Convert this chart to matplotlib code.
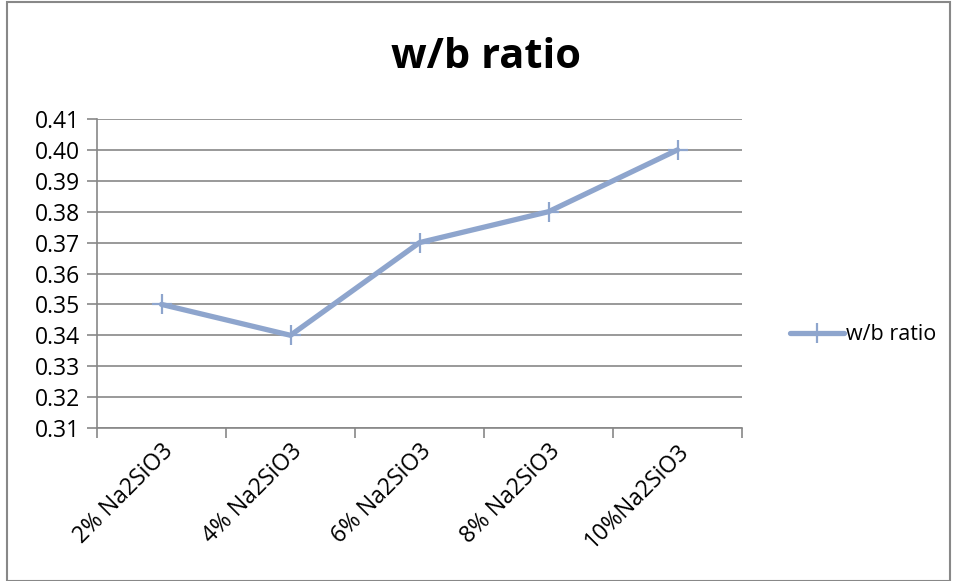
import matplotlib.pyplot as plt
import numpy as np
from matplotlib.patches import Rectangle

categories = ["2% Na2SiO3", "4% Na2SiO3", "6% Na2SiO3", "8% Na2SiO3", "10%Na2SiO3"]
wb_ratio = [0.35, 0.34, 0.37, 0.38, 0.40]
y_ticks = [0.31, 0.32, 0.33, 0.34, 0.35, 0.36, 0.37, 0.38, 0.39, 0.40, 0.41]

plt.rcParams['font.family'] = ['Open Sans', 'DejaVu Sans']

W, H = 956, 581
fig = plt.figure(figsize=(W / 100, H / 100), dpi=100)
ax = fig.add_axes([97 / W, 1 - 428 / H, (742 - 97) / W, (428 - 119) / H])

x = np.arange(len(categories))
line_color = "#8EA5CD"
grid_color = "#878787"

ax.plot(x, wb_ratio, color=line_color, lw=3.8, marker="+", markersize=14,
        markeredgewidth=1.6, label="w/b ratio", solid_capstyle="round")

ax.set_xlim(-0.5, len(categories) - 0.5)
ax.set_ylim(0.31, 0.41)
ax.set_yticks(y_ticks)
ax.set_yticklabels([f"{v:.2f}" for v in y_ticks], fontsize=16.5)
ax.set_xticks(x)
ax.set_xticklabels(categories, rotation=45, ha="right", rotation_mode="anchor", fontsize=16.5)
ax.tick_params(axis="x", length=0, pad=8)
ax.set_xticks(np.arange(-0.5, len(categories)), minor=True)
ax.tick_params(axis="x", which="minor", length=7, color=grid_color, width=1.2)
ax.tick_params(axis="y", length=7, color=grid_color, width=1.2, pad=5)

ax.grid(axis="y", color=grid_color, lw=1.2)
ax.set_axisbelow(True)
for s in ["top", "right"]:
    ax.spines[s].set_visible(False)
for s in ["left", "bottom"]:
    ax.spines[s].set_color(grid_color)
    ax.spines[s].set_linewidth(1.2)

fig.text(486 / W, 1 - 58 / H, "w/b ratio", fontsize=30, fontweight="bold",
         ha="center", va="center")

ax.legend(loc="center left", bbox_to_anchor=(779 / W, 1 - 335 / H),
          bbox_transform=fig.transFigure, frameon=False, fontsize=15.5,
          handlelength=2.5, handletextpad=0.1, borderpad=0)

fig.patches.append(Rectangle((7 / W, 0), 943 / W, 1 - 2 / H, transform=fig.transFigure,
                             fill=False, edgecolor="#888888", lw=1.5))

fig.savefig("out.png", dpi=100)
